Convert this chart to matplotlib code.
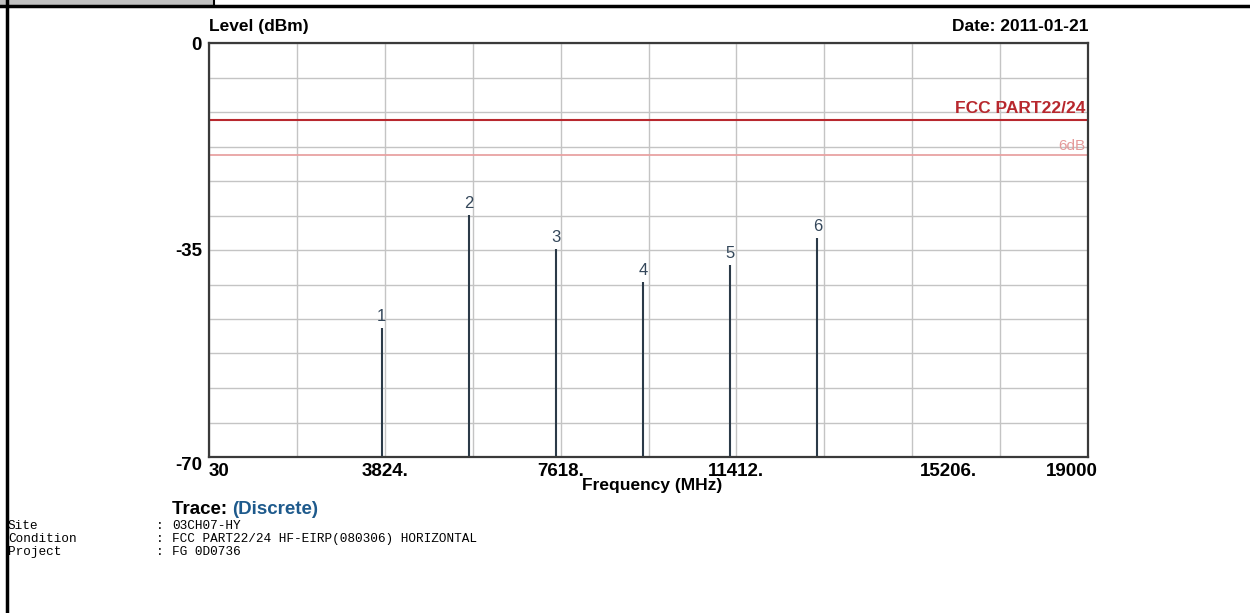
import matplotlib
matplotlib.use("Agg")
import matplotlib.pyplot as plt
import numpy as np
from matplotlib.lines import Line2D
from matplotlib.patches import Rectangle
from matplotlib.transforms import ScaledTranslation

# discrete emission readings (harmonics)
freqs = [3760, 5640, 7520, 9400, 11280, 13160]
levels = [-48.2, -29.1, -34.9, -40.4, -37.5, -33.0]
marker_ids = ["1", "2", "3", "4", "5", "6"]

limit_dbm = -13
margin_db = 6

xtick_vals = [30, 3824, 7618, 11412, 15206, 19000]
xtick_labels = ["30", "3824.", "7618.", "11412.", "15206.", "19000"]
ytick_vals = [0, -35, -70]

info_keys = ["Site", "Condition", "Project"]
info_vals = ["03CH07-HY", "FCC PART22/24 HF-EIRP(080306) HORIZONTAL", "FG 0D0736"]

plt.rcParams["font.family"] = ["Liberation Sans", "DejaVu Sans"]

W, H = 1250, 613
fig = plt.figure(figsize=(W / 100, H / 100), dpi=100)
fig.patch.set_facecolor("white")

def px(x, y):
    return x / W, 1 - y / H

l, r, t, b = 209, 1088, 43, 457
ax = fig.add_axes([l / W, 1 - b / H, (r - l) / W, (b - t) / H])
ax.set_xlim(xtick_vals[0], xtick_vals[-1])
ax.set_ylim(-70, 0)

# grid: 10 columns, 12 rows
ax.set_xticks(xtick_vals)
ax.set_yticks(ytick_vals)
ax.set_xticks(np.linspace(xtick_vals[0], xtick_vals[-1], 11), minor=True)
ax.set_yticks(np.linspace(-70, 0, 13), minor=True)
ax.grid(which="both", color="#c4c4c4", linewidth=1.0)
ax.set_axisbelow(True)

ax.set_xticklabels(xtick_labels, fontsize=13.5, fontweight="bold")
ax.set_yticklabels([str(v) for v in ytick_vals], fontsize=13.5, fontweight="bold")
ax.tick_params(which="both", length=0)
ax.tick_params(axis="x", pad=4)
ax.tick_params(axis="y", pad=5)

xl = ax.get_xticklabels()
xl[0].set_ha("left")
xl[-1].set_ha("right")
xl[4].set_transform(xl[4].get_transform() + ScaledTranslation(0.36, 0, fig.dpi_scale_trans))
xl[-1].set_transform(xl[-1].get_transform() + ScaledTranslation(0.10, 0, fig.dpi_scale_trans))
yl = ax.get_yticklabels()
yl[-1].set_transform(yl[-1].get_transform() + ScaledTranslation(0, -0.07, fig.dpi_scale_trans))

for s in ax.spines.values():
    s.set_color("#3a3a3a")
    s.set_linewidth(1.6)

# limit lines
ax.axhline(limit_dbm, color="#b8282e", linewidth=1.5)
ax.axhline(limit_dbm - margin_db, color="#e8a2a2", linewidth=1.3)
ax.text(0.997, limit_dbm + 0.6, "FCC PART22/24", transform=ax.get_yaxis_transform(),
        ha="right", va="bottom", color="#b8282e", fontsize=12.5, fontweight="bold")
ax.text(0.997, limit_dbm - margin_db + 0.4, "6dB", transform=ax.get_yaxis_transform(),
        ha="right", va="bottom", color="#e49a9a", fontsize=11)

# emission stems
ax.vlines(freqs, -70, levels, color="#2b3a48", linewidth=1.5)
for f, lv, m in zip(freqs, levels, marker_ids):
    ax.text(f, lv + 0.7, m, ha="center", va="bottom", color="#34475a", fontsize=12)

# labels around the plot
fig.text(*px(209, 31), "Level (dBm)", fontsize=12.5, fontweight="bold", ha="left", va="baseline")
fig.text(*px(1088, 31), "Date: 2011-01-21", fontsize=12.5, fontweight="bold", ha="right", va="baseline")
fig.text(*px(652, 490), "Frequency (MHz)", fontsize=12.5, fontweight="bold", ha="center", va="baseline")
t1 = fig.text(*px(172, 514), "Trace: ", fontsize=13.5, fontweight="bold", ha="left", va="baseline")
fig.canvas.draw()
bb = t1.get_window_extent()
fig.text(bb.x1 / W, 1 - 514 / H, "(Discrete)", fontsize=13.5, fontweight="bold",
         color="#1e5a8c", ha="left", va="baseline")

for i, (k, v) in enumerate(zip(info_keys, info_vals)):
    y = 529 + i * 13
    fig.text(*px(8, y), k, family="Liberation Mono", fontsize=9.2, ha="left", va="baseline")
    fig.text(*px(156, y), ":", family="Liberation Mono", fontsize=9.2, ha="left", va="baseline")
    fig.text(*px(172, y), v, family="Liberation Mono", fontsize=9.2, ha="left", va="baseline")

# page frame
fig.add_artist(Rectangle(px(0, 6), 213 / W, 6 / H, facecolor="#c0c0c0", edgecolor="none",
                         transform=fig.transFigure))
fig.add_artist(Line2D([0, 1], [1 - 6 / H] * 2, color="black", linewidth=2.5, transform=fig.transFigure))
fig.add_artist(Line2D([7 / W] * 2, [0, 1], color="black", linewidth=2.5, transform=fig.transFigure))
fig.add_artist(Line2D([214 / W] * 2, [1 - 6 / H, 1], color="black", linewidth=1.5, transform=fig.transFigure))

fig.savefig("out.png", dpi=100, facecolor="white")
